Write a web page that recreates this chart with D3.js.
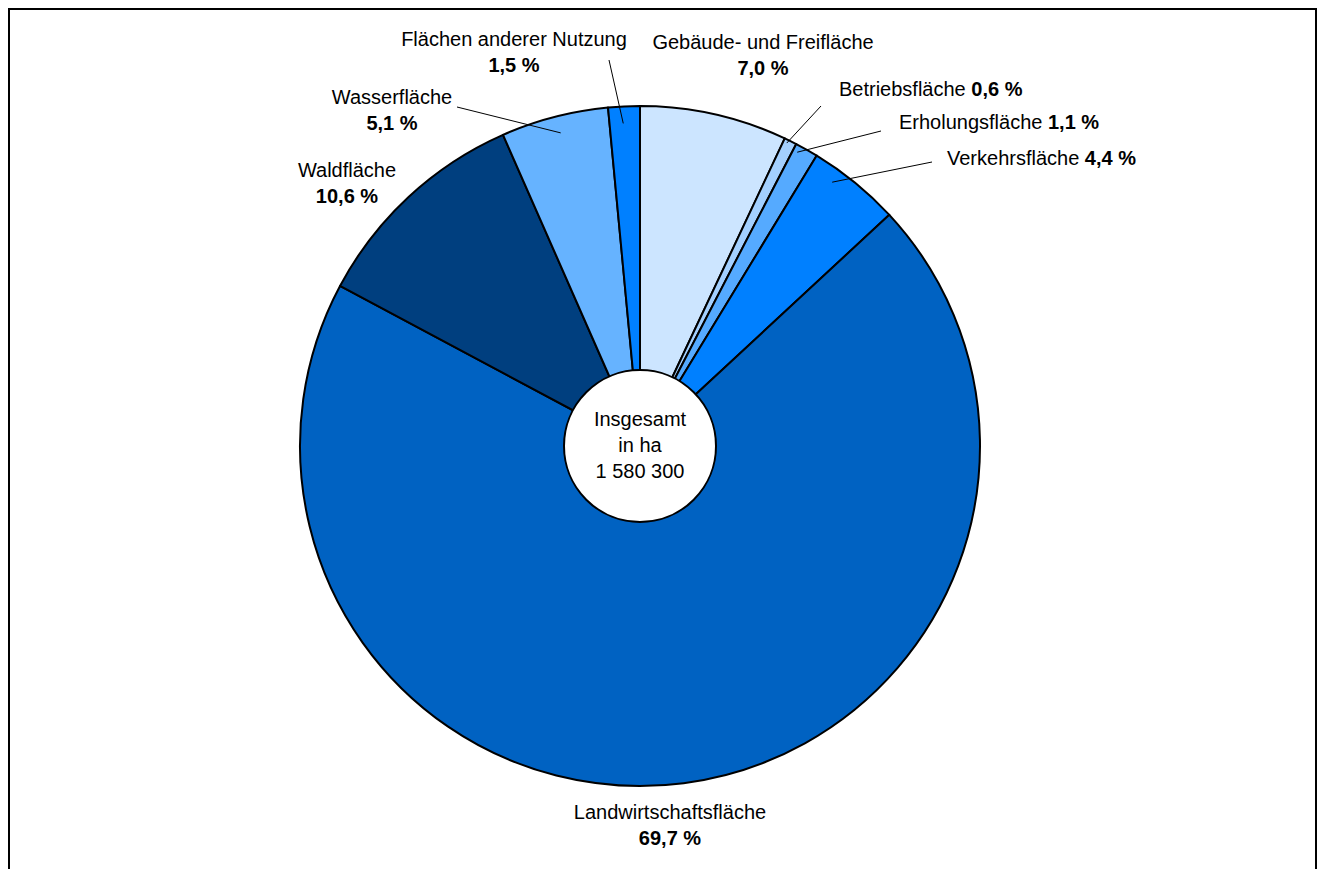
<!DOCTYPE html>
<html>
<head>
<meta charset="utf-8">
<script src="https://cdn.jsdelivr.net/npm/d3@7"></script>
<style>
  body { margin: 0; background: #fff; }
  text { font-family: "Liberation Sans Narrow", "Arial Narrow", "Liberation Sans", Arial, sans-serif; fill: #000; }
</style>
</head>
<body>
<svg id="chart" width="1325" height="869"></svg>
<script>
// Flächennutzung, Anteile in %
var categories = ["Gebäude- und Freifläche", "Betriebsfläche", "Erholungsfläche", "Verkehrsfläche",
                  "Landwirtschaftsfläche", "Waldfläche", "Wasserfläche", "Flächen anderer Nutzung"]
var shares = [7.0, 0.6, 1.1, 4.4, 69.7, 10.6, 5.1, 1.5]
var shareLabels = ["7,0 %", "0,6 %", "1,1 %", "4,4 %", "69,7 %", "10,6 %", "5,1 %", "1,5 %"]
var sliceColors = ["#cce5ff", "#a3d0ff", "#55aaff", "#0080ff", "#0062c2", "#003f7f", "#66b3ff", "#0080ff"]
var centerLines = ["Insgesamt", "in ha", "1 580 300"]

var svg = d3.select("#chart")
var cx = 640, cy = 446, R = 340, r0 = 76

// frame
svg.append("rect")
    .attr("x", 9).attr("y", 9)
    .attr("width", 1307).attr("height", 900)
    .attr("fill", "none").attr("stroke", "#000").attr("stroke-width", 2)

var data = categories.map(function(c, i){ return {name: c, value: shares[i], label: shareLabels[i], color: sliceColors[i]} })

var pie = d3.pie().sort(null).value(function(d){ return d.value })
var arc = d3.arc().innerRadius(0).outerRadius(R)
var arcs = pie(data)

var g = svg.append("g").attr("transform", "translate(" + cx + "," + cy + ")")

g.selectAll("path.slice")
    .data(arcs)
    .enter()
        .append("path")
        .attr("class", "slice")
        .attr("d", arc)
        .attr("fill", function(d){ return d.data.color })
        .attr("stroke", "#000")
        .attr("stroke-width", 2)
        .attr("stroke-linejoin", "round")

// white centre
g.append("circle")
    .attr("r", r0)
    .attr("fill", "#fff")
    .attr("stroke", "#000")
    .attr("stroke-width", 2)

g.selectAll("text.center")
    .data(centerLines)
    .enter()
        .append("text")
        .attr("class", "center")
        .attr("text-anchor", "middle")
        .attr("x", 0)
        .attr("y", function(d, i){ return -20 + i * 26 })
        .attr("font-size", 20)
        .text(function(d){ return d })

// label placement; leader runs from label to a point inside the slice
// (t = position between start and end angle, rf = fraction of radius)
var labelLayout = {
    "Gebäude- und Freifläche": {x: 763, y: 49, anchor: "middle", split: true},
    "Betriebsfläche":          {x: 839, y: 96, anchor: "start", split: false, leader: [821, 106], t: 0.3, rf: 0.99},
    "Erholungsfläche":         {x: 899, y: 129, anchor: "start", split: false, leader: [881, 131], t: 0.2, rf: 0.98},
    "Verkehrsfläche":          {x: 947, y: 165, anchor: "start", split: false, leader: [932, 162], t: 0.3, rf: 0.96},
    "Landwirtschaftsfläche":   {x: 670, y: 819, anchor: "middle", split: true},
    "Waldfläche":              {x: 347, y: 177, anchor: "middle", split: true},
    "Wasserfläche":            {x: 392, y: 104, anchor: "middle", split: true, leader: [457, 107], t: 0.52, rf: 0.95},
    "Flächen anderer Nutzung": {x: 514, y: 46, anchor: "middle", split: true, leader: [609, 60], t: 0.45, rf: 0.95}
}

arcs.forEach(function(a)
{
    var lay = labelLayout[a.data.name]
    if(lay.leader)
    {
        var ang = a.startAngle + (a.endAngle - a.startAngle) * lay.t
        var px = cx + Math.sin(ang) * R * lay.rf
        var py = cy - Math.cos(ang) * R * lay.rf
        svg.append("line")
            .attr("x1", lay.leader[0]).attr("y1", lay.leader[1])
            .attr("x2", px).attr("y2", py)
            .attr("stroke", "#000").attr("stroke-width", 1)
    }
    var t = svg.append("text")
        .attr("x", lay.x).attr("y", lay.y)
        .attr("text-anchor", lay.anchor)
        .attr("font-size", 20)
    if(lay.split)
    {
        t.append("tspan").attr("x", lay.x).text(a.data.name)
        t.append("tspan").attr("x", lay.x).attr("dy", 26).attr("font-weight", "bold").text(a.data.label)
    }
    else
    {
        t.append("tspan").text(a.data.name + " ")
        t.append("tspan").attr("font-weight", "bold").text(a.data.label)
    }
})
</script>
</body>
</html>
